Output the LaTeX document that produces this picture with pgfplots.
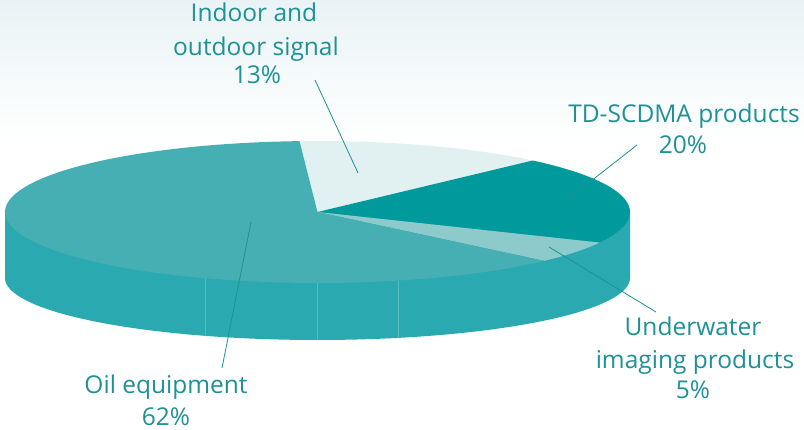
\documentclass[border=0pt]{standalone}
\usepackage{pgfplots}
\pgfplotsset{compat=1.18}
\usepackage{fontspec}
\setmainfont{Open Sans}
\definecolor{oiltop}{HTML}{45AFB3}
\definecolor{side}{HTML}{2AAAB0}
\definecolor{tdtop}{HTML}{00999C}
\definecolor{uwtop}{HTML}{8CCACC}
\definecolor{intop}{HTML}{E1F1F2}
\definecolor{txt}{HTML}{1E9196}
\definecolor{seam}{HTML}{55BCC0}
\definecolor{sky}{HTML}{E9F3F5}
% slice values (percent)
\def\vIn{13}\def\vTD{20}\def\vUW{5}\def\vOil{62}
\pgfmathsetmacro\aA{93.3}
\pgfmathsetmacro\aB{\aA-3.6*\vIn}
\pgfmathsetmacro\aC{\aB-3.6*\vTD}
\pgfmathsetmacro\aD{\aC-3.6*\vUW}
\pgfmathsetmacro\aE{\aD-3.6*\vOil}
\def\cx{317.5}\def\cy{218}\def\rx{312.5}\def\ry{71}
\def\cyb{152}\def\ryb{62}
\tikzset{lbl/.style={font=\fontsize{24.5bp}{30bp}\selectfont,text=txt,inner sep=0pt,anchor=base}}
\begin{document}
\begin{tikzpicture}
\begin{axis}[width=804bp,height=430bp,scale only axis,
  xmin=0,xmax=804,ymin=0,ymax=430,axis lines=none,clip=false]
% sky
\shade[top color=sky,bottom color=white] (axis cs:0,430) rectangle (axis cs:804,290);
% side
\addplot[fill=side,draw=none,domain=180:360,samples=120]
  ({\cx+\rx*cos(x)},{\cyb+\ryb*sin(x)}) -- (axis cs:\cx+\rx,\cy) -- (axis cs:\cx-\rx,\cy) -- cycle;
% seams on side
\addplot[seam,line width=0.6bp] coordinates {(205,152) (205,94)};
\addplot[seam,line width=0.6bp] coordinates {(317,147) (317,90)};
\addplot[seam,line width=0.6bp] coordinates {(398,149.4) (398,92.1)};
% top wedges
\addplot[fill=intop,draw=none,domain=\aB:\aA,samples=40]
  ({\cx+\rx*cos(x)},{\cy+\ry*sin(x)}) -- (axis cs:\cx,\cy) -- cycle;
\addplot[fill=tdtop,draw=none,domain=\aC:\aB,samples=60]
  ({\cx+\rx*cos(x)},{\cy+\ry*sin(x)}) -- (axis cs:\cx,\cy) -- cycle;
\addplot[fill=uwtop,draw=none,domain=\aD:\aC,samples=20]
  ({\cx+\rx*cos(x)},{\cy+\ry*sin(x)}) -- (axis cs:\cx,\cy) -- cycle;
\addplot[fill=oiltop,draw=none,domain=\aE:\aD,samples=150]
  ({\cx+\rx*cos(x)},{\cy+\ry*sin(x)}) -- (axis cs:\cx,\cy) -- cycle;
% leader lines
\addplot[txt,line width=0.8bp] coordinates {(315,350) (358,257)};
\addplot[txt,line width=0.8bp] coordinates {(637,285) (563,227)};
\addplot[txt,line width=0.8bp] coordinates {(549,183) (656,118)};
\addplot[txt,line width=0.8bp] coordinates {(251,208) (222,62)};
% labels
\node[lbl] at (axis cs:254,408) {Indoor and};
\node[lbl] at (axis cs:256,375) {outdoor signal};
\node[lbl] at (axis cs:257,347) {13\%};
\node[lbl] at (axis cs:684,308) {TD-SCDMA products};
\node[lbl] at (axis cs:683,277) {20\%};
\node[lbl] at (axis cs:693,95) {Underwater};
\node[lbl] at (axis cs:695,62) {imaging products};
\node[lbl] at (axis cs:693,32) {5\%};
\node[lbl] at (axis cs:166,37) {Oil equipment};
\node[lbl] at (axis cs:166,5) {62\%};
\end{axis}
\pgfresetboundingbox
\path (current axis.south west) rectangle (current axis.north east);
\end{tikzpicture}
\end{document}
